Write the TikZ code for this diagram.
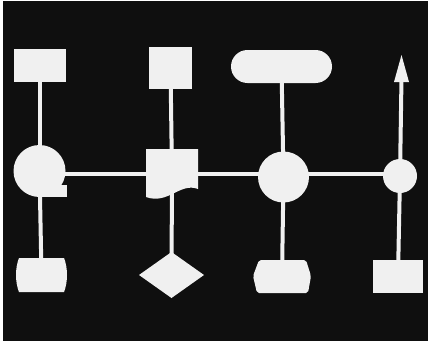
\documentclass[tikz,border=0pt]{standalone}
\usetikzlibrary{shapes.geometric,shapes.misc}
\definecolor{bgc}{HTML}{0F0F0F}
\definecolor{fgc}{HTML}{F0F0F0}
\pgfdeclarelayer{paper}
\pgfdeclarelayer{back}
\pgfsetlayers{paper,back,main}
\begin{document}
\begin{tikzpicture}[x=1pt,y=-1pt,
  shp/.style={fill=fgc,draw=none,inner sep=0pt,outer sep=0pt},
  ghost/.style={draw=none,fill=none,inner sep=0pt,outer sep=0pt,rectangle},
  conn/.style={draw=fgc,line width=4pt},
  hconn/.style={draw=fgc,line width=3.5pt}]
\useasboundingbox (0,0) rectangle (429,343);
\begin{pgfonlayer}{paper}
\fill[white] (0,0) rectangle (429,343);
\fill[bgc] (3,1) rectangle (428,341);
\end{pgfonlayer}

% column 1
\node[shp,rectangle,minimum width=52pt,minimum height=33pt] (r1) at (39.5,65.5) {};
\node[shp,circle,minimum size=52pt] (t1) at (39.5,171) {};
\fill[fgc] (40,185) rectangle (67,196.5);
\node[ghost,minimum width=52pt,minimum height=34pt] (b1) at (41.5,275) {};
\fill[fgc] (19,258) -- (64,258) .. controls (68,268) and (68,282) .. (64,292)
  -- (19,292) .. controls (15,282) and (15,268) .. (19,258) -- cycle;

% column 2
\node[shp,rectangle,minimum width=43pt,minimum height=42pt] (r2) at (170.5,68) {};
\node[ghost,minimum width=52pt,minimum height=51pt] (d2) at (172,174) {};
\fill[fgc] (146,149) -- (198,149) -- (198,189)
  .. controls (180,182) and (168,205) .. (146,197) -- cycle;
\node[shp,diamond,minimum width=65pt,minimum height=46pt] (k2) at (171.5,275) {};

% column 3
\node[shp,rounded rectangle,minimum width=101pt,minimum height=33pt] (p3) at (281.5,66.5) {};
\node[shp,circle,minimum size=51pt] (c3) at (283.5,177) {};
\node[ghost,minimum width=58pt,minimum height=33pt] (h3) at (282,276.5) {};
\fill[fgc,rounded corners=2pt] (259,260) -- (306,260) -- (311,276) -- (308,293)
  -- (257,293) -- (253,276) -- cycle;

% column 4
\coordinate (a4) at (401.5,78);
\fill[fgc] (401.5,55) -- (409,82) -- (394,82) -- cycle;
\node[shp,circle,minimum size=34pt] (c4) at (400,176) {};
\node[shp,rectangle,minimum width=50pt,minimum height=33pt] (r4) at (398,276.5) {};

\begin{pgfonlayer}{back}
\draw[conn] (r1.center) -- (t1.center);
\draw[conn] (t1.center) -- (b1.center);
\draw[conn] (r2.center) -- (d2.center);
\draw[conn] (d2.center) -- (k2.center);
\draw[conn] (p3.center) -- (c3.center);
\draw[conn] (c3.center) -- (h3.center);
\draw[conn] (a4) -- (c4.center);
\draw[conn] (c4.center) -- (r4.center);
\draw[hconn] (t1.center |- d2.center) -- (d2.center);
\draw[hconn] (d2.center) -- (c3.center |- d2.center);
\draw[hconn] (c3.center |- d2.center) -- (c4.center |- d2.center);
\end{pgfonlayer}
\end{tikzpicture}
\end{document}
